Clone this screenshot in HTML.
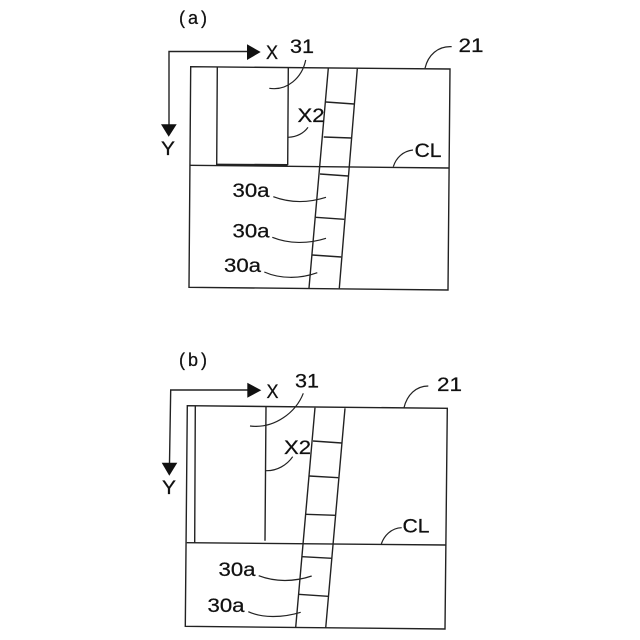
<!DOCTYPE html>
<html><head><meta charset="utf-8"><style>
html,body{margin:0;padding:0;background:#fff}
svg{display:block}
text{font-family:"Liberation Sans",sans-serif;font-size:19px;fill:#111;stroke:#111;stroke-width:.25;text-anchor:middle}
.l{fill:none;stroke:#222;stroke-width:1.4}
.t{fill:none;stroke:#222;stroke-width:1.2}
</style></head><body>
<svg width="640" height="640" viewBox="0 0 640 640" xmlns="http://www.w3.org/2000/svg">
<!-- (a) -->
<text x="193" y="24" style="font-size:18px" textLength="28" lengthAdjust="spacing">(a)</text>
<path class="l" d="M190.7 66.7L450 69L448 290L189 287.3Z"/>
<path class="l" d="M190 165.3L448.7 168"/>
<path class="l" d="M217.3 67L216.7 165M288.3 68L287.7 165"/>
<path class="l" d="M216.7 164.6L287.7 165" style="stroke-width:2"/>
<path class="l" d="M328.3 68.3L309 288M357.3 68.7L339.3 288.3"/>
<path class="l" d="M326 102L354 104M323.7 137L351.3 138M320 174L348 176M315.7 217.3L344.3 219.3M312.3 255L341.3 257"/>
<path class="l" d="M169 125V51.5H248"/>
<path d="M247 44.3V60L260.7 52Z" fill="#111"/>
<path d="M161 124.3H176.7L168.7 136.7Z" fill="#111"/>
<path class="t" d="M305.7 60C302 78 287 91 269.3 88.3"/>
<path class="t" d="M425 68.3C428 55 438 46 451.7 46.7"/>
<path class="t" d="M288.3 137.3C297 137 304 133 308 127.3"/>
<path class="t" d="M393.3 166.7C396 158 403 151 413 150"/>
<path class="t" d="M273.3 196.7C290 203 308 203 326 197.3"/>
<path class="t" d="M272.3 237.3C289 244 308 244 326 238.3"/>
<path class="t" d="M264.3 272C280 279 300 279 317.3 272.7"/>
<text x="272" y="59" textLength="12" lengthAdjust="spacingAndGlyphs">X</text>
<text x="302" y="53" textLength="24" lengthAdjust="spacingAndGlyphs">31</text>
<text x="471" y="52" textLength="25" lengthAdjust="spacingAndGlyphs">21</text>
<text x="168" y="155" textLength="14" lengthAdjust="spacingAndGlyphs">Y</text>
<text x="428" y="157" textLength="27" lengthAdjust="spacingAndGlyphs">CL</text>
<text x="311" y="122" textLength="27" lengthAdjust="spacingAndGlyphs">X2</text>
<text x="251" y="197" textLength="37" lengthAdjust="spacingAndGlyphs">30a</text>
<text x="251" y="237.5" textLength="37" lengthAdjust="spacingAndGlyphs">30a</text>
<text x="242.5" y="272" textLength="37" lengthAdjust="spacingAndGlyphs">30a</text>
<!-- (b) -->
<text x="193" y="366" style="font-size:18px" textLength="28" lengthAdjust="spacing">(b)</text>
<path class="l" d="M187.3 405.7L447.3 408.3L445 629L185.3 626.3Z"/>
<path class="l" d="M186.7 542.7L446 545"/>
<path class="l" d="M195.3 406L194.7 542.7M266 406.7L265 540.7"/>
<path class="l" d="M315 407.7L295.7 627.3M345 408.3L325.7 628"/>
<path class="l" d="M313 441L341.7 443M309.3 476L338.3 477.7M306 514.3L335.7 515.3M302.3 556.7L332 558.3M298.3 594.3L328 596.3"/>
<path class="l" d="M169.5 463L170.7 390H248"/>
<path d="M247.3 382.7V397.7L261.3 390.3Z" fill="#111"/>
<path d="M161.7 462.7H177.3L169.3 475.7Z" fill="#111"/>
<path class="t" d="M303.3 393.3C296 412 275 429 250 426"/>
<path class="t" d="M404 407.7C407 395 416 386 428.3 386"/>
<path class="t" d="M266 470.7C277 471 287 465 292.7 456.7"/>
<path class="t" d="M381.3 544C384 536 391 528 401.7 527.7"/>
<path class="t" d="M258.7 575.7C275 582 294 582 311.7 576"/>
<path class="t" d="M248.3 611.7C262 618 282 618 300.7 612.3"/>
<text x="272.5" y="398" textLength="12" lengthAdjust="spacingAndGlyphs">X</text>
<text x="307" y="387.5" textLength="24" lengthAdjust="spacingAndGlyphs">31</text>
<text x="449.5" y="391" textLength="25" lengthAdjust="spacingAndGlyphs">21</text>
<text x="169" y="494" textLength="14" lengthAdjust="spacingAndGlyphs">Y</text>
<text x="416" y="532.5" textLength="27" lengthAdjust="spacingAndGlyphs">CL</text>
<text x="297.5" y="454" textLength="27" lengthAdjust="spacingAndGlyphs">X2</text>
<text x="237" y="576" textLength="37" lengthAdjust="spacingAndGlyphs">30a</text>
<text x="226" y="612" textLength="37" lengthAdjust="spacingAndGlyphs">30a</text>
</svg>
</body></html>
